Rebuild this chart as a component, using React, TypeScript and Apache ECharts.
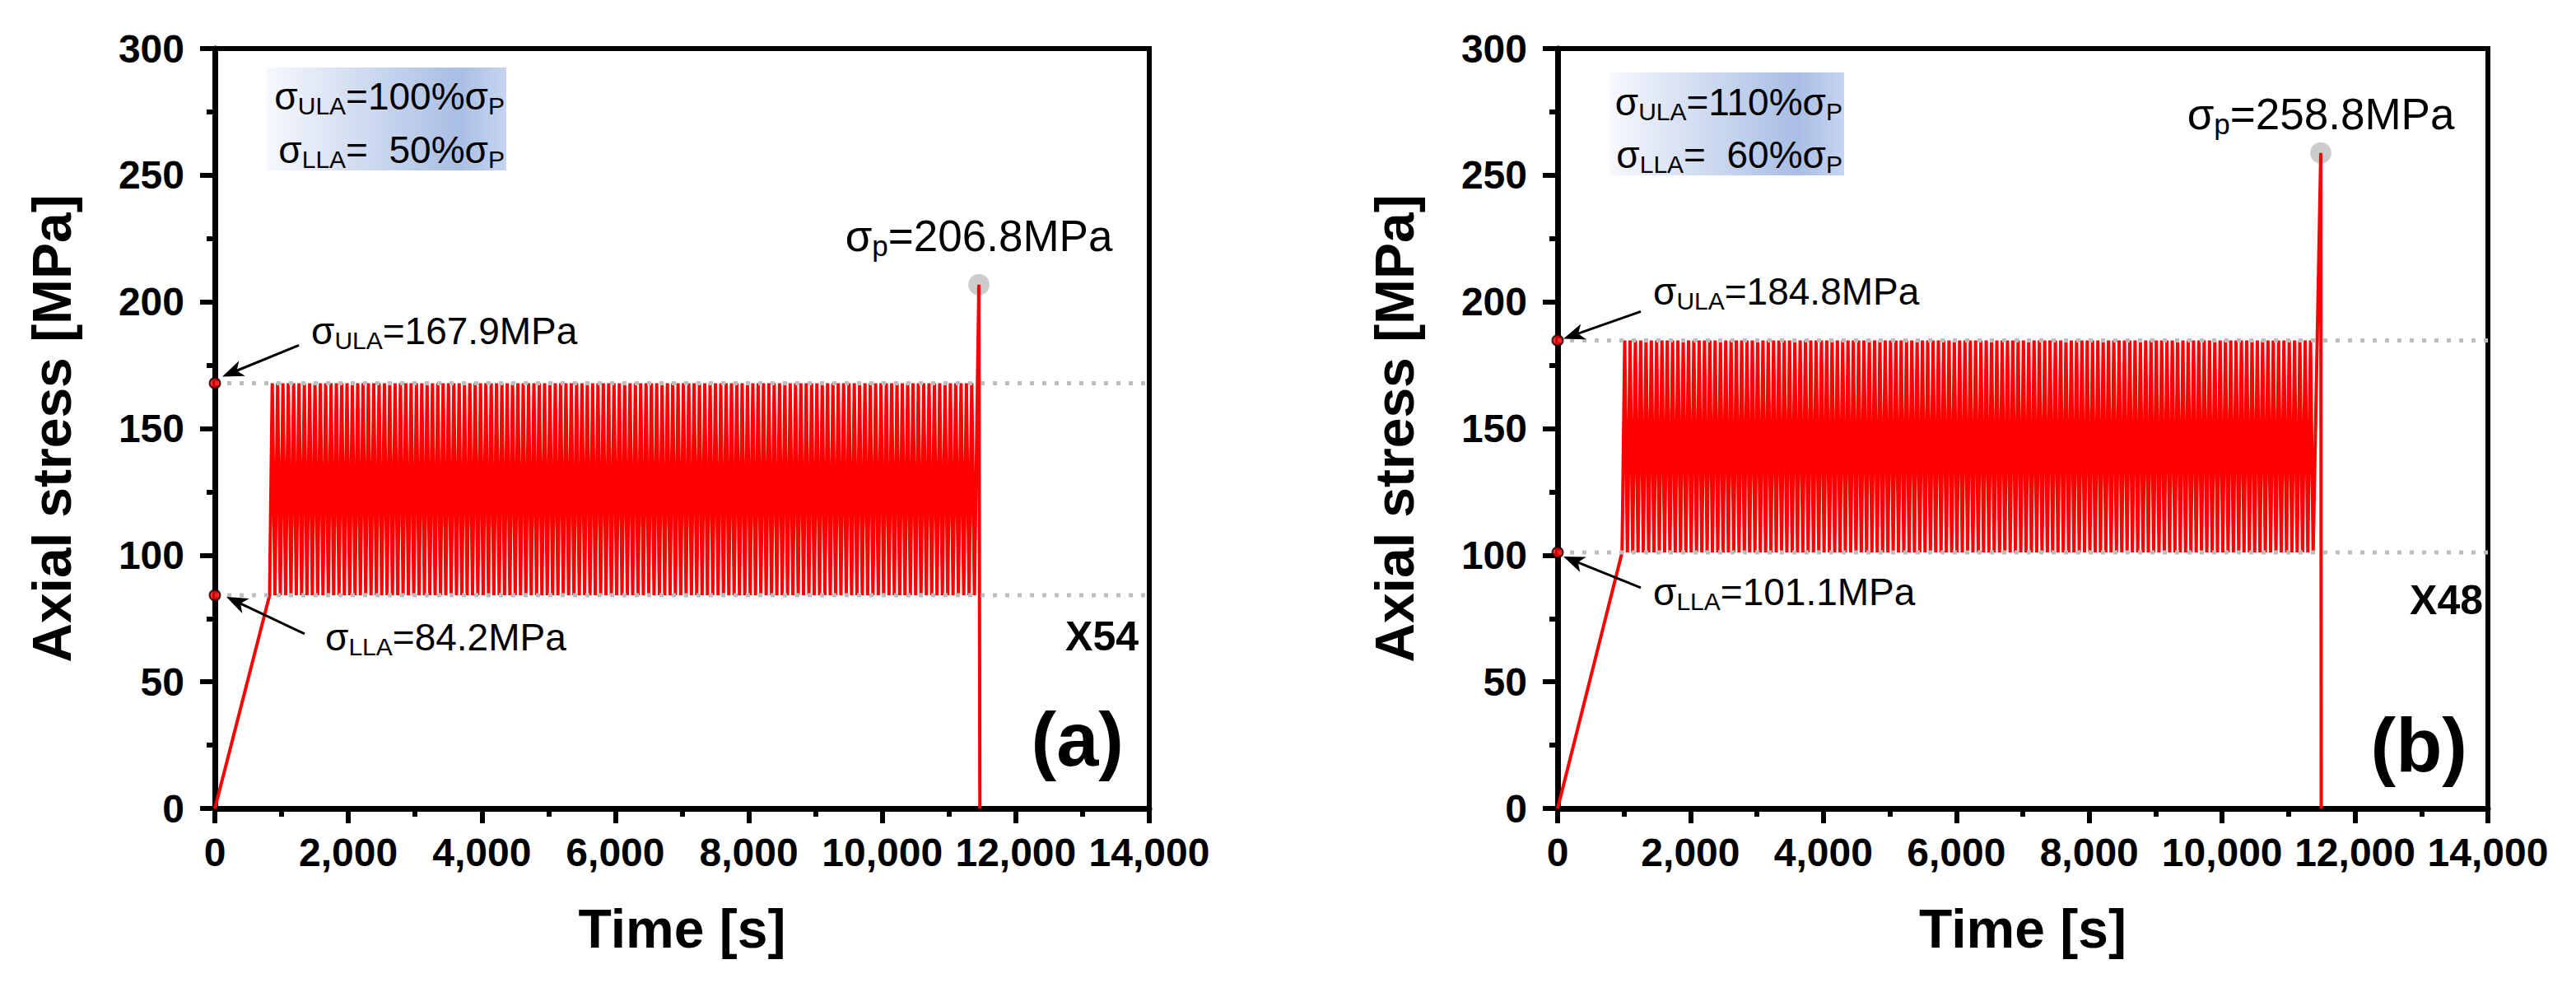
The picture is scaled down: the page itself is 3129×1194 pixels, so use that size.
import { useEffect, useRef } from 'react'
import * as echarts from 'echarts'

const FONT = '"Liberation Sans", Arial, sans-serif'

// axes
const timeTicks = [0, 2000, 4000, 6000, 8000, 10000, 12000, 14000]
const stressTicks = [0, 50, 100, 150, 200, 250, 300]

// (a) specimen X54
const rampA = [[0, 0], [820, 84.2]]
const limitsA = [84.2, 167.9] // [LLA, ULA] MPa
const cyclingA = [820, 11380] // s
const failureA = [[11447, 206.8], [11462, 0]]
const boxA = ['=100%σ', '=  50%σ']

// (b) specimen X48
const rampB = [[0, 0], [970, 101.1]]
const limitsB = [101.1, 184.8]
const cyclingB = [970, 11410]
const failureB = [[11485, 258.8], [11492, 0]]
const boxB = ['=110%σ', '=  60%σ']

const cyclePeriod = 80 // s, one load/unload cycle

const panels = [
  {
    id: 'X54', tag: '(a)', ramp: rampA, limits: limitsA, cycling: cyclingA, failure: failureA, box: boxA,
    grid: [261, 59, 1135, 923],
    ulaText: [117, -47], llaText: [134, 67],
    ulaArrow: [[102, -46], [9, -8]], llaArrow: [[109, 47], [14, 2]],
    peakText: -41, idPos: [-13, 50], tagPos: [-31, -84],
    boxPos: { dx: 63, dy: 23, w: 291, h: 125, b1: 74, b2: 139 },
  },
  {
    id: 'X48', tag: '(b)', ramp: rampB, limits: limitsB, cycling: cyclingB, failure: failureB, box: boxB,
    grid: [1892, 59, 1130, 923],
    ulaText: [116, -43], llaText: [116, 64],
    ulaArrow: [[101, -35], [7, -2]], llaArrow: [[101, 43], [7, 5]],
    peakText: -29, idPos: [-6, 58], tagPos: [-25, -77],
    boxPos: { dx: 63, dy: 29, w: 285, h: 125, b1: 81, b2: 145 },
  },
]

function stressHistory(ramp: number[][], limits: number[], cycling: number[], failure: number[][]) {
  const [lla, ula] = limits
  const pts = ramp.map((p) => [p[0], p[1]])
  for (let t = cycling[0]; t + cyclePeriod <= cycling[1]; t += cyclePeriod) {
    pts.push([t + cyclePeriod / 2, ula])
    pts.push([t + cyclePeriod, lla])
  }
  failure.forEach((p) => pts.push([p[0], p[1]]))
  return pts
}

// rich text helper: baseline-positioned text with subscripts
function richLabel(x: number, baseline: number, align: string, parts: string[][], main: number, sub: number, drop: number) {
  const lh = main + 6
  const subLH = lh + 0.693 * (sub - main) - 2 * drop
  return {
    type: 'text',
    x,
    y: baseline - (lh / 2 + 0.3465 * main),
    z: 100,
    style: {
      text: parts.map(([k, s]) => `{${k}|${s}}`).join(''),
      align,
      verticalAlign: 'top',
      fill: '#000',
      rich: {
        m: { fontSize: main, fontFamily: FONT, lineHeight: lh, fill: '#000' },
        s: { fontSize: sub, fontFamily: FONT, lineHeight: subLH, verticalAlign: 'bottom', fill: '#000' },
      },
    },
  }
}

function arrow(from: number[], tip: number[]) {
  const dx = tip[0] - from[0]
  const dy = tip[1] - from[1]
  const len = Math.hypot(dx, dy)
  const u = [dx / len, dy / len]
  const n = [-u[1], u[0]]
  const L = 26
  const W = 10
  const notch = L - 7
  return [
    {
      type: 'line', z: 100,
      shape: { x1: from[0], y1: from[1], x2: tip[0] - notch * u[0], y2: tip[1] - notch * u[1] },
      style: { stroke: '#000', lineWidth: 3 },
    },
    {
      type: 'polygon', z: 100,
      shape: {
        points: [
          tip,
          [tip[0] - L * u[0] + W * n[0], tip[1] - L * u[1] + W * n[1]],
          [tip[0] - notch * u[0], tip[1] - notch * u[1]],
          [tip[0] - L * u[0] - W * n[0], tip[1] - L * u[1] - W * n[1]],
        ],
      },
      style: { fill: '#000' },
    },
  ]
}

export default function App() {
  const ref = useRef<HTMLDivElement>(null)

  useEffect(() => {
    if (!ref.current) return
    const chart = echarts.init(ref.current, null, { renderer: 'svg' })
    const tMin = timeTicks[0]
    const tMax = timeTicks[timeTicks.length - 1]
    const sMin = stressTicks[0]
    const sMax = stressTicks[stressTicks.length - 1]

    const axisCommon = {
      type: 'value',
      nameLocation: 'middle',
      nameTextStyle: { fontSize: 66, fontWeight: 'bold', color: '#000', fontFamily: FONT },
      axisLine: { show: true, onZero: false, lineStyle: { color: '#000', width: 7 } },
      axisTick: { show: true, inside: false, length: 18, lineStyle: { width: 6, color: '#000' } },
      minorTick: { show: true, splitNumber: 2, length: 10, lineStyle: { width: 6, color: '#000' } },
      splitLine: { show: false },
    }

    const series: any[] = []
    panels.forEach((p, i) => {
      const [lla, ula] = p.limits
      series.push(
        {
          type: 'scatter', xAxisIndex: i, yAxisIndex: i, z: 2, silent: true,
          data: [p.failure[0]], symbolSize: 26, itemStyle: { color: '#c0c0c0' },
        },
        {
          type: 'line', xAxisIndex: i, yAxisIndex: i, z: 3, silent: true,
          data: stressHistory(p.ramp, p.limits, p.cycling, p.failure),
          showSymbol: false, symbol: 'none',
          lineStyle: { color: '#ff0000', width: 4 },
        },
        ...[ula, lla].map((v) => ({
          type: 'line', xAxisIndex: i, yAxisIndex: i, z: 4, silent: true,
          data: [[tMin, v], [tMax, v]], symbol: 'none',
          lineStyle: { color: '#bdbdbd', width: 5, type: [5, 10] },
        })),
        {
          type: 'scatter', xAxisIndex: i, yAxisIndex: i, z: 5, silent: true, clip: false,
          data: [[0, ula], [0, lla]], symbolSize: 13,
          itemStyle: { color: '#ff0000', borderColor: '#000', borderWidth: 2 },
        },
      )
    })

    chart.setOption({
      animation: false,
      textStyle: { fontFamily: FONT },
      grid: panels.map((p) => ({
        left: p.grid[0], top: p.grid[1], width: p.grid[2], height: p.grid[3],
        show: true, borderColor: '#000', borderWidth: 6, backgroundColor: 'transparent',
      })),
      xAxis: panels.map((_, i) => ({
        ...axisCommon,
        gridIndex: i, min: tMin, max: tMax, interval: timeTicks[1] - timeTicks[0],
        name: 'Time [s]', nameGap: 113,
        axisLabel: {
          margin: 29, fontSize: 48, fontWeight: 'bold', color: '#000', fontFamily: FONT,
          formatter: (v: number) => v.toLocaleString('en-US'),
        },
      })),
      yAxis: panels.map((_, i) => ({
        ...axisCommon,
        gridIndex: i, min: sMin, max: sMax, interval: stressTicks[1] - stressTicks[0],
        name: 'Axial stress [MPa]', nameGap: 165, nameRotate: 90,
        axisLabel: { margin: 37, fontSize: 48, fontWeight: 'bold', color: '#000', fontFamily: FONT },
      })),
      series,
    })

    const graphic: any[] = []
    panels.forEach((p, i) => {
      const toPx = (pt: number[]) => chart.convertToPixel({ gridIndex: i }, pt) as number[]
      const [lla, ula] = p.limits
      const ulaDot = toPx([0, ula])
      const llaDot = toPx([0, lla])
      const peak = toPx(p.failure[0])
      const br = toPx([tMax, sMin])
      const tl = toPx([tMin, sMax])

      // limit box
      const bx = tl[0] + p.boxPos.dx
      const by = tl[1] + p.boxPos.dy
      graphic.push({
        type: 'rect', z: 90,
        shape: { x: bx, y: by, width: p.boxPos.w, height: p.boxPos.h },
        style: {
          fill: new echarts.graphic.LinearGradient(0, 0, 1, 0, [
            { offset: 0, color: '#f6f8fd' },
            { offset: 0.8, color: '#a9bee4' },
            { offset: 1, color: '#c6d4ef' },
          ]),
        },
      })
      const rx = bx + p.boxPos.w - 2
      graphic.push(richLabel(rx, tl[1] + p.boxPos.b1, 'right', [['m', 'σ'], ['s', 'ULA'], ['m', p.box[0]], ['s', 'P']], 46, 30, 10))
      graphic.push(richLabel(rx, tl[1] + p.boxPos.b2, 'right', [['m', 'σ'], ['s', 'LLA'], ['m', p.box[1]], ['s', 'P']], 46, 30, 10))

      // limit labels + arrows
      graphic.push(richLabel(ulaDot[0] + p.ulaText[0], ulaDot[1] + p.ulaText[1], 'left',
        [['m', 'σ'], ['s', 'ULA'], ['m', `=${ula.toFixed(1)}MPa`]], 46, 30, 10))
      graphic.push(richLabel(llaDot[0] + p.llaText[0], llaDot[1] + p.llaText[1], 'left',
        [['m', 'σ'], ['s', 'LLA'], ['m', `=${lla.toFixed(1)}MPa`]], 46, 30, 10))
      graphic.push(...arrow(
        [ulaDot[0] + p.ulaArrow[0][0], ulaDot[1] + p.ulaArrow[0][1]],
        [ulaDot[0] + p.ulaArrow[1][0], ulaDot[1] + p.ulaArrow[1][1]],
      ))
      graphic.push(...arrow(
        [llaDot[0] + p.llaArrow[0][0], llaDot[1] + p.llaArrow[0][1]],
        [llaDot[0] + p.llaArrow[1][0], llaDot[1] + p.llaArrow[1][1]],
      ))

      // peak label
      graphic.push(richLabel(peak[0], peak[1] + p.peakText, 'center',
        [['m', 'σ'], ['s', 'p'], ['m', `=${p.failure[0][1].toFixed(1)}MPa`]], 53, 35, 12))

      // specimen id and panel tag
      graphic.push({
        type: 'text', z: 100, x: br[0] + p.idPos[0], y: llaDot[1] + p.idPos[1],
        style: { text: p.id, align: 'right', verticalAlign: 'middle', fill: '#000', font: `bold 50px ${FONT}` },
      })
      graphic.push({
        type: 'text', z: 100, x: br[0] + p.tagPos[0], y: br[1] + p.tagPos[1],
        style: { text: p.tag, align: 'right', verticalAlign: 'middle', fill: '#000', font: `bold 92px ${FONT}` },
      })
    })
    chart.setOption({ graphic })

    return () => chart.dispose()
  }, [])

  return <div ref={ref} style={{ position: 'absolute', left: 0, top: 0, width: 3129, height: 1194 }} />
}
